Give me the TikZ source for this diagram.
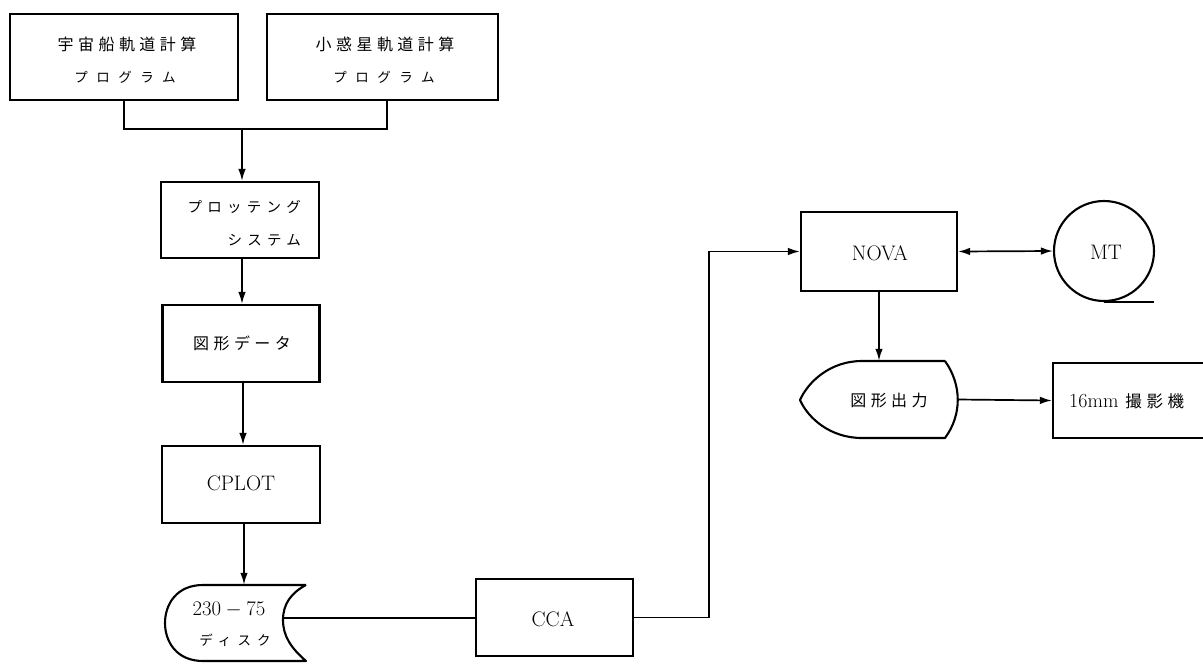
\documentclass[tikz,border=0pt]{standalone}
\usepackage{fontspec}
\usetikzlibrary{arrows.meta,calc}
% Japanese faces with different letter spacing
\newfontfamily\jpmain[LetterSpace=28]{Noto Sans CJK JP}
\newfontfamily\jpkana[LetterSpace=63]{Noto Sans CJK JP}
\newfontfamily\jpmid[LetterSpace=36]{Noto Sans CJK JP}
\newfontfamily\jpdisk[LetterSpace=45]{Noto Sans CJK JP}
\begin{document}
\begin{tikzpicture}[x=1pt,y=-1pt,
  box/.style={draw, line width=2.1pt, inner sep=0pt},
  wire/.style={line width=1.7pt},
  arr/.style={wire, -{Latex[length=12pt,width=7.5pt]}},
  biarr/.style={wire, {Latex[length=12pt,width=7.5pt]}-{Latex[length=12pt,width=7.5pt]}},
  outline/.style={line width=2.1pt, line join=round},
  title/.style={inner sep=0pt, font=\fontsize{16pt}{19pt}\selectfont\jpmain},
  kana/.style={inner sep=0pt, font=\fontsize{13.5pt}{16pt}\selectfont\jpkana},
  midkana/.style={inner sep=0pt, font=\fontsize{14.5pt}{17pt}\selectfont\jpmid},
  diskkana/.style={inner sep=0pt, font=\fontsize{13.5pt}{16pt}\selectfont\jpdisk},
  latin/.style={inner sep=0pt, font=\fontsize{21pt}{25pt}\selectfont},
]
\clip (0,0) rectangle (1203,664);

% two orbit programs
\node[box, minimum width=228, minimum height=86] (ship) at (124,57) {};
\node[title] (shipA) at (127,44) {宇宙船軌道計算};
\node[kana] (shipB) at (125,77) {プログラム};
\node[box, minimum width=231, minimum height=86] (aster) at (382.5,57) {};
\node[title] (asterA) at (385,44) {小惑星軌道計算};
\node[kana] (asterB) at (384,77) {プログラム};

% left column
\node[box, minimum width=158, minimum height=76] (plot) at (240,220) {};
\node[midkana, anchor=east] (plotA) at (301,207) {プロッテング};
\node[midkana, anchor=east] (plotB) at (301,240) {システム};
\node[box, minimum width=157, minimum height=77] (data) at (241,343.5) {};
\node[title] (dataA) at (242,343) {図形データ};
\node[box, minimum width=158, minimum height=77] (cplot) at (241,484.5) {};
\node[latin] (cplotA) at (241,483) {CPLOT};

% disk
\node[minimum width=141, minimum height=76, inner sep=0pt] (disk) at (235,623) {};
\draw[outline] (306,585) -- (203,585)
  .. controls (176,585) and (165,605) .. (165,623)
  .. controls (165,641) and (176,661) .. (203,661)
  -- (306,661)
  .. controls (291,648) and (283,636) .. (283,620)
  .. controls (283,604) and (291,593) .. (306,585);
\coordinate (diskport) at (283,618);
\node[inner sep=0pt, font=\fontsize{19.5pt}{22pt}\selectfont] (diskA) at (229,610) {$230-75$};
\node[diskkana] (diskB) at (235,640) {ディスク};

% channel adapter
\node[box, minimum width=157, minimum height=77] (cca) at (554.5,617.5) {};
\node[latin] (ccaA) at (553,619) {CCA};

% NOVA and tape
\node[box, minimum width=156, minimum height=79] (nova) at (879,251.5) {};
\node[latin] (novaA) at (880,253) {NOVA};
\node[draw, circle, line width=2.1pt, minimum size=100, inner sep=0pt] (mt) at (1104,251) {};
\node[latin] (mtA) at (1106,252) {MT};

% display
\node[minimum width=157, minimum height=77, inner sep=0pt] (disp) at (879,399.5) {};
\draw[outline] (945,361) -- (862,361)
  .. controls (830,361) and (808,382) .. (800,400)
  .. controls (808,418) and (830,438) .. (862,438)
  -- (945,438)
  .. controls (962,415) and (962,385) .. (945,361);
\node[title] (dispA) at (889,400) {図形出力};

% camera
\node[box, minimum width=170, minimum height=75] (cam) at (1138,400.5) {};
\node[inner sep=0pt, anchor=west, font=\fontsize{20pt}{24pt}\selectfont] (camA) at (1069,401)
  {16mm\hspace{7pt}{\fontsize{16.5pt}{19pt}\selectfont\jpmain 撮影機}};

% connectors
\coordinate (merge) at (242,129);
\draw[wire] (ship.south) |- (merge);
\draw[wire] ([xshift=4.5pt]aster.south) |- (merge);
\draw[arr] (merge) -- (merge |- plot.north);
\draw[arr] ([xshift=2pt]plot.south) -- ([xshift=2pt]plot.south |- data.north);
\draw[arr] ([xshift=2pt]data.south) -- ([xshift=2pt]data.south |- cplot.north);
\draw[arr] ([xshift=3pt]cplot.south) -- ([xshift=3pt]cplot.south |- disk.north);
\draw[wire] (diskport) -- (diskport -| cca.west);
\draw[arr] (cca.east) -- ++(75,0) |- (nova.west);
\draw[biarr] (nova.east) -- (mt.west);
\draw[wire] (mt.south) -- ++(50,0);
\draw[arr] (nova.south) -- (nova.south |- disp.north);
\draw[arr] (disp.east) -- (cam.west);
\end{tikzpicture}
\end{document}
